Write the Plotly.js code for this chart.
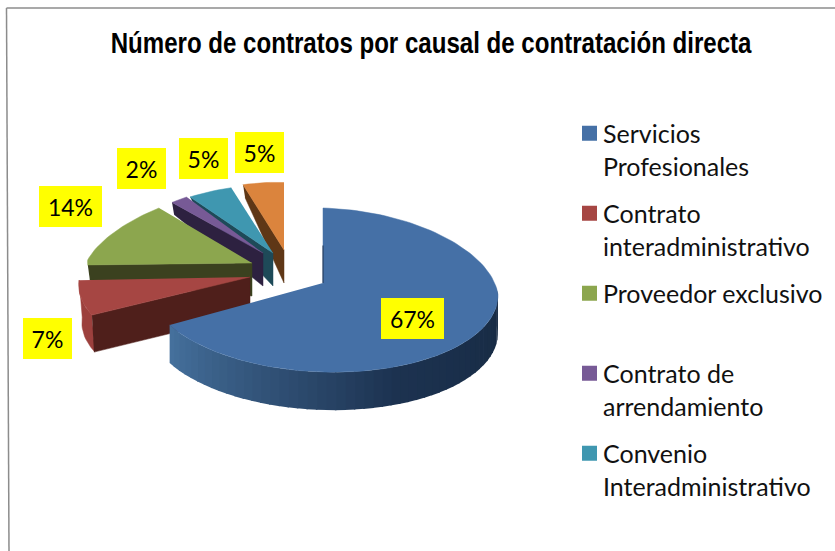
<!DOCTYPE html>
<html><head><meta charset="utf-8">
<script src="https://cdn.plot.ly/plotly-3.0.1.min.js"></script>
<style>html,body{margin:0;padding:0;background:#fff;overflow:hidden}</style>
</head><body><div id="chart" style="width:835px;height:551px"></div>
<script>
const chartTitle = "Número de contratos por causal de contratación directa";
const categories = ["Servicios<br>Profesionales","Contrato<br>interadministrativo","Proveedor exclusivo<br>&nbsp;","Contrato de<br>arrendamiento","Convenio<br>Interadministrativo",""];
const values = [67,7,14,2,5,5];
const topColors = ["#4570A6","#A64643","#8CA64E","#775A96","#3F97B0","#DB843D"];
const wallColors = ["#2A466B","#4F1F1B","#3B411F","#2D2140","#1E4A58","#5F3716"];
// pie projection, per slice: apex position, scale, tilt offset, perspective, wall depth at apex and at the far corner
const apexX = [323,250,252,263,273,284];
const apexY = [283,277,263,253,253,250];
const scaleX = [1,0.97,0.94,0.92,1,0.98];
const scaleY = [1,1,0.9,0.9,0.9,0.9];
const offsetY = [7,3,2,7,7,7];
const persp = [0.06,0.24,0.24,0.24,0.24,0.24];
const perspFront = [0,0.13,0,0,0,0];
const depthNear = [38,37,33,33,33,33];
const depthFar = [38,37,15,12,4,13];
const labelX = [412.5,47.5,70.5,141.5,203.5,259.5];
const labelY = [318.5,338.5,206.5,168.5,158.5,152.5];
const labelW = [63,49,63,49,49,49];

const RX=175, RY=82, TILT=5, RAD=Math.PI/180;
const total = values.reduce((a,b)=>a+b,0);
let c=0; const startA=[], endA=[];
values.forEach(v=>{startA.push(c/total*360); c+=v; endA.push(c/total*360);});

function pt(i,deg){
  const t=deg*RAD, s=Math.sin(t), co=Math.cos(t);
  return [apexX[i]+scaleX[i]*RX*s*(1-persp[i]*Math.max(0,co)-perspFront[i]*Math.min(0,co)),
          apexY[i]+scaleY[i]*(offsetY[i]-RY*co+TILT*s)];
}
function poly(xy,color,w){
  return {type:'scatter',mode:'lines',x:xy.map(p=>p[0]),y:xy.map(p=>p[1]),fill:'toself',fillcolor:color,
    line:{color:color,width:w===undefined?0.5:w},hoverinfo:'skip',showlegend:false};
}
function arc(i,a,b){const out=[];const n=Math.max(2,Math.ceil((b-a)/2));for(let k=0;k<=n;k++)out.push(pt(i,a+(b-a)*k/n));return out;}
function hex(h){return [1,3,5].map(k=>parseInt(h.substr(k,2),16));}
function mix(a,b,f){const A=hex(a),B=hex(b);return 'rgb('+A.map((v,k)=>Math.round(v+(B[k]-v)*f)).join(',')+')';}

const traces=[];
for(let i=values.length-1;i>=1;i--){
  const A=[apexX[i],apexY[i]];
  if(i===1){ // outer rim of the red slice
    const rim=arc(i,startA[i],endA[i]);
    traces.push(poly(rim.concat(rim.slice().reverse().map(p=>[p[0]+3,p[1]+depthFar[i]])),"#9C403D"));
  }
  // cut face toward the viewer
  const C=pt(i,startA[i]);
  traces.push(poly([C,A,[A[0],A[1]+depthNear[i]],[C[0]+2,C[1]+depthFar[i]]],wallColors[i]));
  traces.push(poly([A].concat(arc(i,startA[i],endA[i])),topColors[i]));
}
// blue rim, shaded strip by strip
const rimStart=85, rimEnd=endA[0], strips=50;
for(let k=0;k<strips;k++){
  const a=rimStart+(rimEnd-rimStart)*k/strips, b=rimStart+(rimEnd-rimStart)*(k+1)/strips+0.5;
  const P=pt(0,a),Q=pt(0,Math.min(b,rimEnd));
  const f=k/(strips-1);
  const col=f<0.45?mix("#172A42","#1C3250",f/0.45):mix("#1C3250","#45709C",(f-0.45)/0.55);
  traces.push(poly([P,Q,[Q[0],Q[1]+depthNear[0]],[P[0],P[1]+depthNear[0]]],col,0));
}
traces.push(poly([[apexX[0],apexY[0]]].concat(arc(0,startA[0],endA[0])),topColors[0]));
// thin dark inner edge of the blue slice
traces.push({type:'scatter',mode:'lines',x:[apexX[0],apexX[0]],y:[apexY[0],(apexY[0]+pt(0,0)[1])/2],line:{color:'#1F3350',width:1},hoverinfo:'skip',showlegend:false});
// legend swatches
for(let i=0;i<5;i++){
  traces.push({type:'scatter',mode:'markers',x:[null],y:[null],name:categories[i],legendgroup:'g'+i,
    marker:{symbol:'square',size:15,color:topColors[i]},hoverinfo:'skip'});
}
const annotations=values.map((v,i)=>({
  x:labelX[i],y:labelY[i],xref:'x',yref:'y',text:v+'%',showarrow:false,bgcolor:'#FFFF00',
  width:labelW[i],height:41,borderpad:0,borderwidth:0,xanchor:'center',yanchor:'middle',
  font:{family:'Lato, sans-serif',size:23,color:'#000'}
}));
const layout={
  width:835,height:551,margin:{l:0,r:0,t:0,b:0},paper_bgcolor:'#fff',plot_bgcolor:'#fff',
  title:{text:chartTitle,x:431/835,xref:'paper',xanchor:'center',y:0.922,yanchor:'middle',
    font:{family:'"Liberation Sans",sans-serif',size:29,weight:700,color:'#000'}},
  xaxis:{range:[0,835],visible:false,fixedrange:true},
  yaxis:{range:[551,0],visible:false,fixedrange:true},
  annotations,
  legend:{x:563/835,y:1-110.5/551,xanchor:'left',yanchor:'top',valign:'top',bgcolor:'rgba(0,0,0,0)',tracegroupgap:12,itemclick:false,itemdoubleclick:false,
    font:{family:'Lato, sans-serif',size:25,color:'#111'}},
  shapes:[
    {type:'line',xref:'paper',yref:'paper',x0:6.5/835,x1:9/835,y0:1-8/551,y1:0,line:{color:'#8c8c8c',width:1.5}},
    {type:'line',xref:'paper',yref:'paper',x0:6.5/835,x1:1,y0:1-8/551,y1:1-8/551,line:{color:'#8c8c8c',width:1.5}}
  ],
  showlegend:true,hovermode:false
};
Plotly.newPlot('chart',traces,layout,{displayModeBar:false,staticPlot:true}).then(()=>{
  // the reference title is a condensed bold face: squeeze the real text about its centre
  const t=document.querySelector('.gtitle');
  if(t){const b=t.getBBox(),cx=b.x+b.width/2,k=642/b.width;
    t.setAttribute('transform','translate('+cx+',0) scale('+k+',1) translate('+(-cx)+',0)');}
  // the reference keeps its swatches closer to the legend text
  document.querySelectorAll('.legend .legendsymbols').forEach(g=>g.setAttribute('transform','translate(6.5,0)'));
});
</script></body></html>
